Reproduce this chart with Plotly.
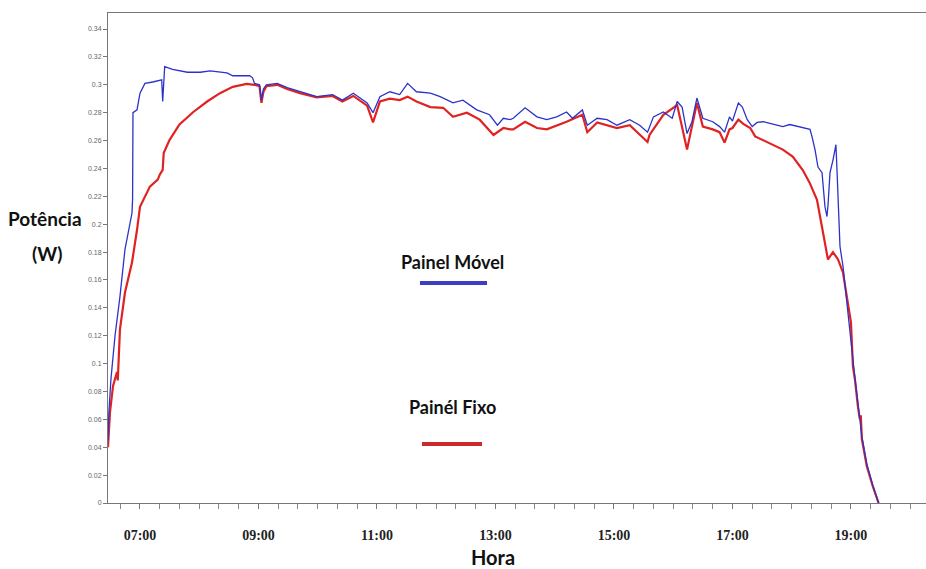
import plotly.graph_objects as go

DAY = "2020-01-01 "

# Painel Móvel (blue)
movel_time = [
    "06:27:36", "06:28:30", "06:30:36", "06:34:42", "06:39:42", "06:44:48", "06:51:54", "06:52:30",
    "06:52:54", "06:57:00", "07:00:00", "07:05:00", "07:13:00", "07:22:00", "07:23:00", "07:24:00",
    "07:25:00", "07:33:00", "07:48:00", "08:01:00", "08:11:00", "08:28:00", "08:34:00", "08:51:00",
    "08:54:00", "08:56:00", "09:01:00", "09:03:00", "09:05:00", "09:08:00", "09:19:00", "09:29:00",
    "09:42:00", "09:59:00", "10:15:00", "10:25:00", "10:36:00", "10:50:00", "10:56:00", "11:03:00",
    "11:13:00", "11:23:00", "11:31:00", "11:40:00", "11:54:00", "12:04:00", "12:17:00", "12:27:00",
    "12:41:00", "12:54:00", "13:02:00", "13:08:00", "13:15:00", "13:18:00", "13:30:00", "13:42:00",
    "13:52:00", "14:02:00", "14:12:00", "14:18:00", "14:28:00", "14:33:00", "14:43:00", "14:53:00",
    "15:03:00", "15:16:00", "15:26:00", "15:34:00", "15:40:00", "15:50:00", "15:59:00", "16:04:00",
    "16:09:00", "16:14:00", "16:19:00", "16:24:00", "16:30:00", "16:34:00", "16:40:00", "16:47:00",
    "16:52:00", "16:57:00", "17:00:00", "17:06:00", "17:10:00", "17:15:00", "17:20:00", "17:25:00",
    "17:31:00", "17:45:00", "17:51:00", "17:58:00", "18:08:00", "18:15:00", "18:18:30", "18:20:30",
    "18:23:36", "18:26:36", "18:30:42", "18:33:42", "18:35:42", "18:36:42", "18:38:48", "18:41:48",
    "18:44:48", "18:45:48", "18:48:54", "18:51:54", "18:56:00", "19:02:00", "19:04:00", "19:07:00",
    "19:11:00", "19:16:00", "19:22:00", "19:28:00",
]
movel_w = [
    0.045, 0.065, 0.089, 0.120, 0.148, 0.182, 0.208, 0.218,
    0.280, 0.282, 0.294, 0.301, 0.302, 0.3035, 0.288, 0.306,
    0.313, 0.311, 0.309, 0.309, 0.310, 0.3086, 0.3065, 0.3065,
    0.305, 0.301, 0.300, 0.289, 0.297, 0.300, 0.301, 0.298,
    0.295, 0.2915, 0.293, 0.289, 0.294, 0.287, 0.280, 0.2915,
    0.295, 0.293, 0.301, 0.295, 0.294, 0.2915, 0.287, 0.289,
    0.282, 0.2785, 0.271, 0.276, 0.275, 0.276, 0.2835, 0.277,
    0.275, 0.277, 0.2805, 0.276, 0.282, 0.271, 0.276, 0.275,
    0.271, 0.275, 0.271, 0.266, 0.277, 0.2805, 0.276, 0.288,
    0.284, 0.265, 0.2735, 0.2905, 0.276, 0.275, 0.2735, 0.270,
    0.266, 0.277, 0.274, 0.287, 0.284, 0.275, 0.270, 0.273,
    0.2735, 0.271, 0.270, 0.2715, 0.270, 0.269, 0.268, 0.263,
    0.2535, 0.241, 0.237, 0.2125, 0.2055, 0.213, 0.237, 0.246,
    0.257, 0.240, 0.184, 0.170, 0.141, 0.103, 0.090, 0.072,
    0.048, 0.028, 0.013, 0.0,
]

# Painél Fixo (red)
fixo_time = [
    "06:27:36", "06:29:36", "06:32:42", "06:36:42", "06:37:30", "06:39:42", "06:44:48", "06:51:54",
    "06:57:00", "07:00:00", "07:10:00", "07:18:00", "07:20:00", "07:23:00", "07:24:00", "07:30:00",
    "07:40:00", "07:54:00", "08:08:00", "08:21:00", "08:34:00", "08:48:00", "08:56:00", "09:01:00",
    "09:03:00", "09:05:00", "09:08:00", "09:19:00", "09:29:00", "09:42:00", "09:59:00", "10:15:00",
    "10:25:00", "10:36:00", "10:50:00", "10:56:00", "11:03:00", "11:13:00", "11:23:00", "11:31:00",
    "11:40:00", "11:54:00", "12:07:00", "12:17:00", "12:31:00", "12:44:00", "12:58:00", "13:08:00",
    "13:15:00", "13:18:00", "13:30:00", "13:42:00", "13:52:00", "14:12:00", "14:28:00", "14:33:00",
    "14:43:00", "15:03:00", "15:16:00", "15:34:00", "15:36:00", "15:50:00", "16:04:00", "16:14:00",
    "16:24:00", "16:30:00", "16:40:00", "16:47:00", "16:52:00", "16:57:00", "17:00:00", "17:06:00",
    "17:11:00", "17:18:00", "17:23:00", "17:35:00", "17:51:00", "18:01:00", "18:11:00", "18:18:00",
    "18:25:36", "18:31:42", "18:36:42", "18:41:48", "18:46:54", "18:51:54", "19:00:00", "19:02:00",
    "19:04:00", "19:07:00", "19:09:00", "19:10:00", "19:11:00", "19:16:00", "19:22:00", "19:28:00",
]
fixo_w = [
    0.040, 0.065, 0.084, 0.094, 0.088, 0.1245, 0.151, 0.1725,
    0.196, 0.2125, 0.227, 0.232, 0.2355, 0.239, 0.251, 0.2605,
    0.2715, 0.2805, 0.288, 0.294, 0.2985, 0.3007, 0.300, 0.299,
    0.287, 0.295, 0.299, 0.300, 0.297, 0.294, 0.291, 0.292,
    0.288, 0.292, 0.285, 0.273, 0.288, 0.290, 0.289, 0.2915,
    0.288, 0.284, 0.2835, 0.277, 0.280, 0.275, 0.264, 0.269,
    0.268, 0.268, 0.2735, 0.269, 0.268, 0.2735, 0.2785, 0.266,
    0.273, 0.269, 0.271, 0.259, 0.264, 0.2785, 0.2855, 0.2535,
    0.287, 0.270, 0.268, 0.266, 0.2585, 0.268, 0.269, 0.275,
    0.272, 0.269, 0.263, 0.259, 0.2535, 0.2485, 0.239, 0.230,
    0.2175, 0.194, 0.1747, 0.180, 0.1747, 0.1654, 0.1296, 0.098,
    0.0888, 0.0695, 0.060, 0.063, 0.046, 0.0265, 0.0122, 0.0,
]

hour_ticks = ["07:00", "09:00", "11:00", "13:00", "15:00", "17:00", "19:00"]
y_ticks = [0, 0.02, 0.04, 0.06, 0.08, 0.1, 0.12, 0.14, 0.16, 0.18, 0.2,
           0.22, 0.24, 0.26, 0.28, 0.3, 0.32, 0.34]
y_tick_text = ["0", "0.02", "0.04", "0.06", "0.08", "0.1", "0.12", "0.14", "0.16", "0.18", "0.2",
               "0.22", "0.24", "0.26", "0.28", "0.3", "0.32", "0.34"]

BLUE = "#2b33c9"
RED = "#e02222"

fig = go.Figure()
fig.add_trace(go.Scatter(x=[DAY + t for t in fixo_time], y=fixo_w, mode="lines",
                         line=dict(color=RED, width=2.2), name="Painél Fixo", showlegend=False))
fig.add_trace(go.Scatter(x=[DAY + t for t in movel_time], y=movel_w, mode="lines",
                         line=dict(color=BLUE, width=1.3), name="Painel Móvel", showlegend=False))

fig.update_layout(
    width=926, height=569,
    margin=dict(l=108, r=0, t=13, b=66),
    paper_bgcolor="white", plot_bgcolor="white",
    showlegend=False,
    xaxis=dict(
        type="date",
        range=[DAY + "06:27:36", DAY + "20:16:00"],
        tickmode="array",
        tickvals=[DAY + t for t in hour_ticks],
        ticktext=hour_ticks,
        ticks="outside", ticklen=5, tickcolor="#777", tickwidth=1,
        ticklabelstandoff=14,
        tickfont=dict(family="Liberation Serif", size=14, color="#222", weight="bold"),
        showline=True, linecolor="#777", linewidth=1, mirror=True,
        showgrid=False, zeroline=False,
        minor=dict(tickmode="linear", tick0=DAY + "07:00", dtick=20 * 60 * 1000,
                   ticks="outside", ticklen=5, tickcolor="#888", showgrid=False),
    ),
    yaxis=dict(
        range=[0, 0.3515],
        tickmode="array", tickvals=y_ticks, ticktext=y_tick_text,
        ticks="outside", ticklen=4, tickcolor="#777",
        tickfont=dict(family="Liberation Sans", size=7, color="#666"),
        showline=True, linecolor="#777", linewidth=1,
        showgrid=False, zeroline=False,
    ),
    font=dict(family="Lato"),
)

ann_font = dict(family="Lato", size=19, color="#111")
leg_font = dict(family="Lato", size=18, color="#111")
fig.add_annotation(text="<b>Hora</b>", xref="paper", yref="paper", x=(493 - 108) / 818, y=(503 - 557) / 490,
                   showarrow=False, font=dict(family="Lato", size=20, color="#111"), xanchor="center", yanchor="middle")
fig.add_annotation(text="<b>Potência</b>", xref="paper", yref="paper", x=(45 - 108) / 818, y=(503 - 218) / 490,
                   showarrow=False, font=ann_font, xanchor="center", yanchor="middle")
fig.add_annotation(text="<b>(W)</b>", xref="paper", yref="paper", x=(47 - 108) / 818, y=(503 - 253) / 490,
                   showarrow=False, font=ann_font, xanchor="center", yanchor="middle")
fig.add_annotation(text="<b>Painel Móvel</b>", xref="paper", yref="paper", x=(452 - 108) / 818, y=(503 - 262) / 490,
                   showarrow=False, font=leg_font, xanchor="center", yanchor="middle")
fig.add_annotation(text="<b>Painél Fixo</b>", xref="paper", yref="paper", x=(452 - 108) / 818, y=(503 - 407) / 490,
                   showarrow=False, font=leg_font, xanchor="center", yanchor="middle")
fig.add_shape(type="line", xref="paper", yref="paper",
              x0=(420 - 108) / 818, x1=(487 - 108) / 818, y0=(503 - 283) / 490, y1=(503 - 283) / 490,
              line=dict(color="#3a3fc4", width=4))
fig.add_shape(type="line", xref="paper", yref="paper",
              x0=(422 - 108) / 818, x1=(482 - 108) / 818, y0=(503 - 444) / 490, y1=(503 - 444) / 490,
              line=dict(color="#cc2a2a", width=4))

fig.write_html("out.html", config={"displayModeBar": False},
               post_script="document.body.style.margin='0';document.body.style.overflow='hidden';")
